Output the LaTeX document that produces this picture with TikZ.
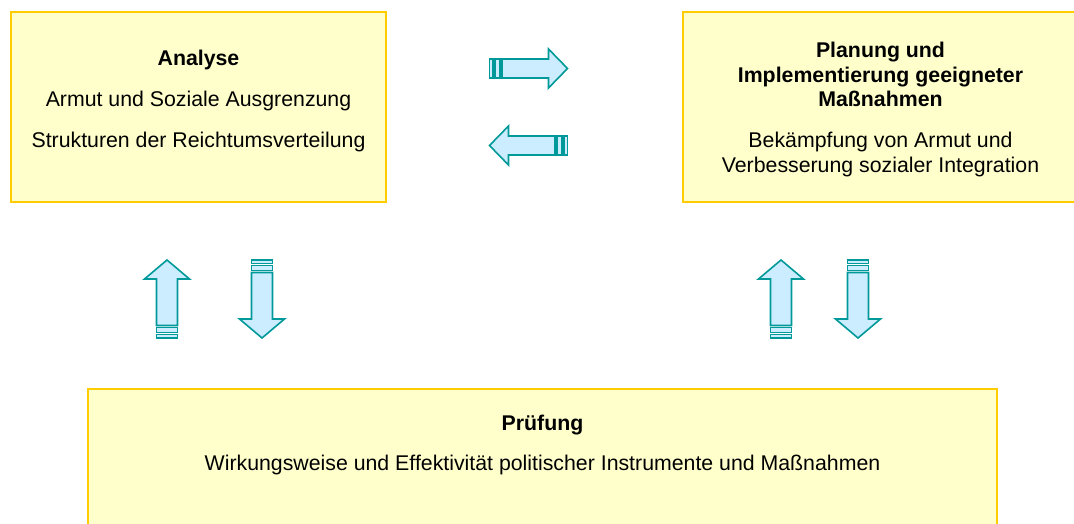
\documentclass[tikz,border=0pt]{standalone}
\usepackage{fontspec}
\setmainfont{Liberation Sans}
\usepackage{xcolor}
\usepackage{tikz}
\usetikzlibrary{positioning,calc}

\definecolor{boxfill}{HTML}{FFFFCC}
\definecolor{boxline}{HTML}{FFCC00}
\definecolor{arrowfill}{HTML}{CCECFF}
\definecolor{arrowline}{HTML}{009999}

\begin{document}
\begin{tikzpicture}[x=1pt, y=-1pt,
    box/.style={draw=boxline, fill=boxfill, line width=2pt, rectangle, inner sep=0pt},
    boxtext/.style={align=center, inner sep=0pt, font=\fontsize{21.3}{24.5}\selectfont},
    arrowshape/.style={draw=arrowline, fill=arrowfill, line width=1.6pt, line join=miter},
    pics/striparrow/.style 2 args={code={
        \draw[arrowshape] (0,-#1) rectangle (3.5,#1);
        \draw[arrowshape] (5.5,-#1) rectangle (10.5,#1);
        \draw[arrowshape] (12.5,-#1) -- (59,-#1) -- (59,-#2) -- (78,0)
            -- (59,#2) -- (59,#1) -- (12.5,#1) -- cycle;
    }}]
    \useasboundingbox (0,0) rectangle (1074,524);
    \clip (0,0) rectangle (1074,524);

    % Analyse
    \node[box, minimum width=375pt, minimum height=190pt] (an) at (198.5,107) {};
    \node[boxtext, anchor=north] (anText) at (198.5,50)
        {\textbf{Analyse}\\[16.5pt] Armut und Soziale Ausgrenzung\\[16.5pt] Strukturen der Reichtumsverteilung};

    % Planung
    \node[box, minimum width=395pt, minimum height=190pt] (plan) at (880.5,107) {};
    \node[boxtext, anchor=north] (planText) at (880.5,42)
        {\textbf{Planung und}\\ \textbf{Implementierung geeigneter}\\ \textbf{Maßnahmen}\\[16.5pt]
         Bekämpfung von Armut und\\ Verbesserung sozialer Integration};

    % Pruefung
    \node[box, minimum width=909pt, minimum height=160pt] (pruef) at (542.5,469) {};
    \node[boxtext, anchor=north] (pruefText) at (542.5,415)
        {\textbf{Prüfung}\\[15.5pt] Wirkungsweise und Effektivität politischer Instrumente und Maßnahmen};

    % Pfeile zwischen Analyse und Planung
    \pic at (489.5,68.5) {striparrow={9.5}{19.5}};
    \pic[rotate=180] at (567.5,145.5) {striparrow={9.5}{19.5}};

    % Pfeile zur Pruefung
    \pic[rotate=90] at (167,338) {striparrow={10.5}{22.5}};
    \pic[rotate=-90] at (262,260) {striparrow={10.5}{22.5}};
    \pic[rotate=90] at (781,338) {striparrow={10.5}{22.5}};
    \pic[rotate=-90] at (858,260) {striparrow={10.5}{22.5}};
\end{tikzpicture}
\end{document}
